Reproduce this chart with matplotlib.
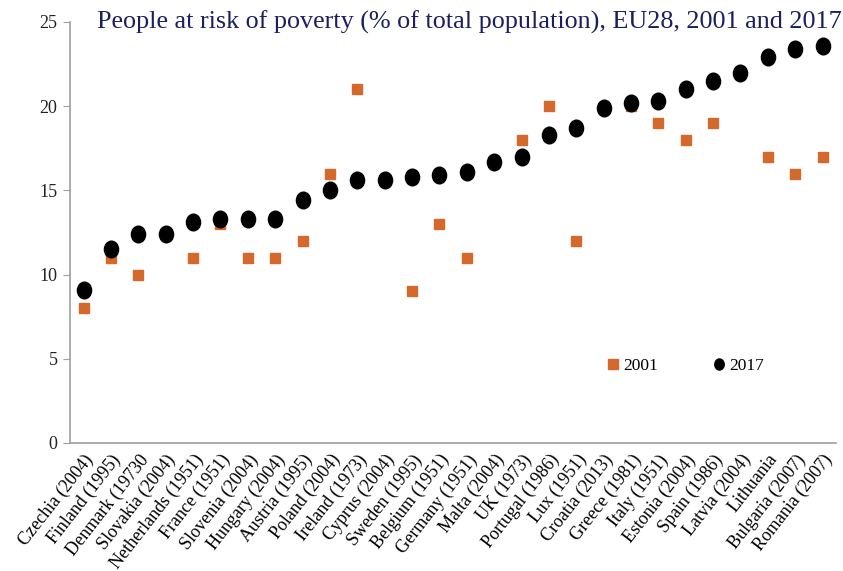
import matplotlib.pyplot as plt
import numpy as np
from matplotlib.path import Path
from matplotlib.transforms import Affine2D

countries = ["Czechia (2004)", "Finland (1995)", "Denmark (19730", "Slovakia (2004)",
             "Netherlands (1951)", "France (1951)", "Slovenia (2004)", "Hungary (2004)",
             "Austria (1995)", "Poland (2004)", "Ireland (1973)", "Cyprus (2004)",
             "Sweden (1995)", "Belgium (1951)", "Germany (1951)", "Malta (2004)",
             "UK (1973)", "Portugal (1986)", "Lux (1951)", "Croatia (2013)",
             "Greece (1981)", "Italy (1951)", "Estonia (2004)", "Spain (1986)",
             "Latvia (2004)", "Lithuania", "Bulgaria (2007)", "Romania (2007)"]

# 2017 values, sorted ascending
v2017 = [9.1, 11.5, 12.4, 12.4, 13.1, 13.3, 13.3, 13.3, 14.4, 15.0, 15.6, 15.6,
         15.8, 15.9, 16.1, 16.7, 17.0, 18.3, 18.7, 19.9, 20.2, 20.3, 21.0, 21.5,
         22.0, 22.9, 23.4, 23.6]

# 2001 values (NaN where missing)
nan = np.nan
v2001 = [8, 11, 10, nan, 11, 13, 11, 11, 12, 16, 21, nan,
         9, 13, 11, nan, 18, 20, 12, nan, 20, 19, 18, 19,
         nan, 17, 16, 17]

serif = ["Liberation Serif", "DejaVu Serif"]
orange = "#D4692B"

# slightly tall ellipse for the 2017 marker
ellipse = Path.unit_circle().transformed(Affine2D().scale(0.85, 1.0))

fig = plt.figure(figsize=(8.43, 5.71), dpi=100)
ax = fig.add_axes([0.083, 0.2242, 0.909, 0.7373])

x = np.arange(len(countries))
ax.plot(x, v2001, linestyle="none", marker="s", markersize=6.5, color=orange,
        label="2001")
ax.plot(x, v2017, linestyle="none", marker=ellipse, markersize=12, color="black",
        label="2017")

ax.set_xlim(-0.5, len(countries) - 0.5)
ax.set_ylim(0, 25)
ax.set_yticks(range(0, 26, 5))
ax.set_xticks(x)
ax.set_xticklabels(countries, rotation=52, ha="right", rotation_mode="anchor",
                   family=serif, fontsize=13)
for lab in ax.get_yticklabels():
    lab.set_family(serif)
    lab.set_fontsize(13)
    lab.set_color("#222222")

ax.tick_params(axis="x", length=0, pad=6)
ax.tick_params(axis="y", length=5, color="#A0A0A0", pad=4)
for s in ["top", "right"]:
    ax.spines[s].set_visible(False)
for s in ["left", "bottom"]:
    ax.spines[s].set_color("#A0A0A0")
    ax.spines[s].set_linewidth(1.2)

ax.text(0.035, 1.0, "People at risk of poverty (% of total population), EU28, 2001 and 2017",
        transform=ax.transAxes, ha="left", va="center", family=serif,
        fontsize=18.8, color="#1B1F5E")

leg = ax.legend(loc="center", bbox_to_anchor=(0.802, 0.183), ncol=2, frameon=False,
                prop={"family": serif, "size": 12.5}, handletextpad=0.1,
                columnspacing=3.0, handlelength=1.0)
leg.legend_handles[1].set_markersize(8)

fig.savefig("out.png", dpi=100)
